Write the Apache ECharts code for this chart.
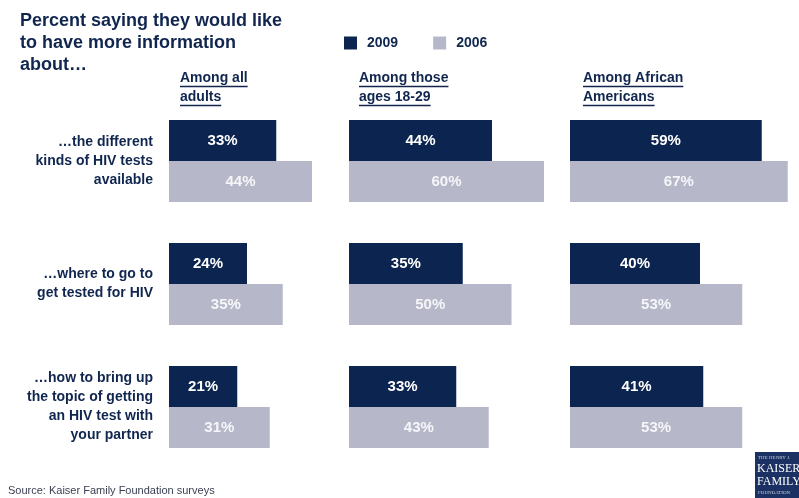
<!DOCTYPE html>
<html>
<head>
<meta charset="utf-8">
<script src="https://cdn.jsdelivr.net/npm/echarts@6/dist/echarts.min.js"></script>
<style>
  html, body { margin: 0; padding: 0; background: #fff; }
  #chart { width: 799px; height: 498px; }
</style>
</head>
<body>
<div id="chart"></div>
<script>
// Survey topics (rows) and the three population groups (panels)
const topics = [
  '…the different\nkinds of HIV tests\navailable',
  '…where to go to\nget tested for HIV',
  '…how to bring up\nthe topic of getting\nan HIV test with\nyour partner'
];
const groups = ['Among all\nadults', 'Among those\nages 18-29', 'Among African\nAmericans'];
const years = ['2009', '2006'];

// Percent values per group, in topic order
const adults2009 = [33, 24, 21];
const adults2006 = [44, 35, 31];
const young2009 = [44, 35, 33];
const young2006 = [60, 50, 43];
const african2009 = [59, 40, 41];
const african2006 = [67, 53, 53];

const values2009 = [adults2009, young2009, african2009];
const values2006 = [adults2006, young2006, african2006];

const NAVY = '#0b2550';
const GREY = '#b6b8ca';
const TEXT = '#10264f';
const FONT = '"Liberation Sans", Arial, sans-serif';

// Layout of the three panels
const panelLeft = [169, 349, 570];
const xMax = 70;
const pxPerUnit = 3.25;
const gridTop = 99.5;
const gridHeight = 369;

const grids = [], xAxes = [], yAxes = [], series = [];
panelLeft.forEach((left, i) => {
  grids.push({ left: left, top: gridTop, width: xMax * pxPerUnit, height: gridHeight, containLabel: false });
  xAxes.push({ type: 'value', gridIndex: i, min: 0, max: xMax, show: false });
  yAxes.push({
    type: 'category', gridIndex: i, data: topics, inverse: true,
    axisLine: { show: false }, axisTick: { show: false },
    axisLabel: i === 0 ? {
      show: true, margin: 16, align: 'right', color: TEXT,
      fontFamily: FONT, fontWeight: 'bold', fontSize: 14, lineHeight: 19
    } : { show: false }
  });
  const lbl = {
    show: true, position: 'inside', formatter: '{c}%', color: '#ffffff',
    fontFamily: FONT, fontWeight: 'bold', fontSize: 15
  };
  series.push({
    name: years[0], type: 'bar', xAxisIndex: i, yAxisIndex: i,
    data: values2009[i], barWidth: 41, barGap: '0%',
    itemStyle: { color: NAVY }, label: lbl, silent: true
  });
  series.push({
    name: years[1], type: 'bar', xAxisIndex: i, yAxisIndex: i,
    data: values2006[i], barWidth: 41, barGap: '0%',
    itemStyle: { color: GREY }, label: Object.assign({}, lbl, { color: '#f6f6f9' }), silent: true
  });
});

// Panel headings, underlined line by line
const measure = document.createElement('canvas').getContext('2d');
const headFont = 'bold 14px ' + FONT;
measure.font = headFont;
const graphics = [];
const headX = [180, 359, 583];
groups.forEach((g, i) => {
  g.split('\n').forEach((line, j) => {
    const y = 71 + j * 19;
    graphics.push({
      type: 'text', left: headX[i], top: y,
      style: { text: line, font: headFont, fill: TEXT }
    });
    const w = measure.measureText(line).width;
    graphics.push({
      type: 'line',
      shape: { x1: headX[i], y1: y + 15.5, x2: headX[i] + w, y2: y + 15.5 },
      style: { stroke: TEXT, lineWidth: 1.5 }
    });
  });
});

// Title block
graphics.push({
  type: 'text', left: 20, top: 10,
  style: {
    text: 'Percent saying they would like\nto have more information\nabout…',
    font: 'bold 18px ' + FONT, fill: TEXT, lineHeight: 22
  }
});

// Source note
graphics.push({
  type: 'text', left: 8, top: 485,
  style: { text: 'Source: Kaiser Family Foundation surveys', font: '11px ' + FONT, fill: '#3a3f52' }
});

// Foundation logo badge
graphics.push({
  type: 'group', left: 755, top: 452,
  children: [
    { type: 'rect', shape: { x: 0, y: 0, width: 44, height: 46 }, style: { fill: '#1c3163' } },
    { type: 'text', style: { x: 3, y: 3, text: 'THE HENRY J.', font: '5px serif', fill: '#c9cde0' } },
    { type: 'text', style: { x: 2, y: 11, text: 'KAISER', font: '12px "Liberation Serif", serif', fill: '#ffffff' } },
    { type: 'text', style: { x: 2, y: 24, text: 'FAMILY', font: '12px "Liberation Serif", serif', fill: '#ffffff' } },
    { type: 'text', style: { x: 3, y: 38, text: 'FOUNDATION', font: '5px serif', fill: '#c9cde0' } }
  ]
});

const chart = echarts.init(document.getElementById('chart'), null, { renderer: 'canvas' });
chart.setOption({
  animation: false,
  backgroundColor: '#ffffff',
  legend: {
    data: years, left: 339, top: 31, itemWidth: 13, itemHeight: 13, itemGap: 35,
    icon: 'rect', selectedMode: false,
    textStyle: { color: TEXT, fontFamily: FONT, fontWeight: 'bold', fontSize: 14, padding: [0, 0, 0, 5] }
  },
  grid: grids,
  xAxis: xAxes,
  yAxis: yAxes,
  series: series,
  graphic: graphics
});
</script>
</body>
</html>
